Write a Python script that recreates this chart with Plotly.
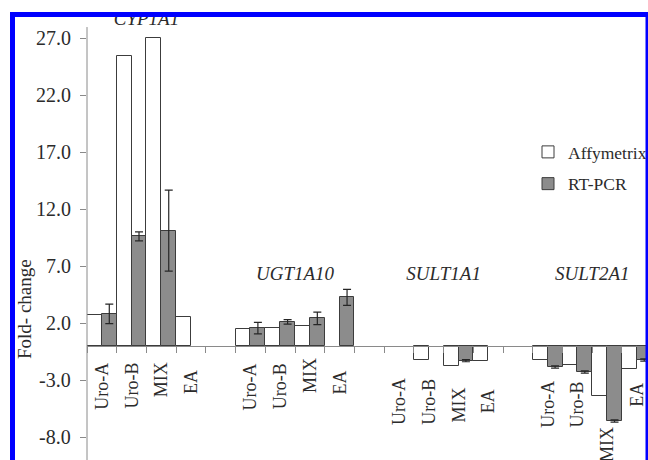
import plotly.graph_objects as go

# ---- data -------------------------------------------------------------
genes = ["CYP1A1", "UGT1A10", "SULT1A1", "SULT2A1"]
treatments = ["Uro-A", "Uro-B", "MIX", "EA"]

affymetrix_cyp1a1 = [2.7, 25.4, 27.0, 2.55]
affymetrix_ugt1a10 = [1.45, 1.6, 1.7, None]
affymetrix_sult1a1 = [None, -1.25, -1.8, -1.3]
affymetrix_sult2a1 = [-1.25, -1.7, -4.4, -2.0]

rtpcr_cyp1a1 = [2.8, 9.6, 10.1, None]
rtpcr_ugt1a10 = [1.55, 2.1, 2.4, 4.25]
rtpcr_sult1a1 = [None, None, -1.3, None]
rtpcr_sult2a1 = [-1.85, -2.3, -6.6, -1.25]

rtpcr_err_cyp1a1 = [0.85, 0.4, 3.55, None]
rtpcr_err_ugt1a10 = [0.5, 0.2, 0.55, 0.7]
rtpcr_err_sult1a1 = [None, None, 0.1, None]
rtpcr_err_sult2a1 = [0.1, 0.1, 0.1, 0.1]

y_ticks = [-8, -3, 2, 7, 12, 17, 22, 27]
y_axis_top = 27.96              # where the drawn value axis ends

# ---- geometry / style ---------------------------------------------------
W, H = 648, 460
ML, MT = 87, 12                 # plot area starts here (pixels)
PW, PH = W - ML, H - MT         # plot area size
SLOT_PX = 29.72                 # width of one category slot
ZERO_PX = 345.8                 # pixel row of y = 0
UNIT_PX = 11.4                  # pixels per fold-change unit

x_lo = -0.5
x_hi = x_lo + PW / SLOT_PX
y_hi = (ZERO_PX - MT) / UNIT_PX
y_lo = -(H - ZERO_PX) / UNIT_PX

FONT = "Liberation Serif, Times New Roman, serif"
TXT = "#2b2b2b"
AXIS = "#8a8a8a"
EDGE = "#3c3c3c"
GREY = "#8c8c8c"
BLUE = "#0000ff"


def px_x(px):
    return (px - ML) / PW


def px_y(py):
    return (H - py) / PH


# category slots: four treatments per gene, one empty slot between genes
slots = [g * 5 + t for g in range(len(genes)) for t in range(len(treatments))]
affy = affymetrix_cyp1a1 + affymetrix_ugt1a10 + affymetrix_sult1a1 + affymetrix_sult2a1
rt = rtpcr_cyp1a1 + rtpcr_ugt1a10 + rtpcr_sult1a1 + rtpcr_sult2a1
rt_err = rtpcr_err_cyp1a1 + rtpcr_err_ugt1a10 + rtpcr_err_sult1a1 + rtpcr_err_sult2a1

fig = go.Figure()
fig.add_trace(go.Bar(
    x=slots, y=affy, name="Affymetrix", legendgroup="affy",
    marker=dict(color="white", line=dict(color=EDGE, width=1)),
))
fig.add_trace(go.Bar(
    x=slots, y=rt, name="RT-PCR", legendgroup="rt",
    marker=dict(color=GREY, line=dict(color=EDGE, width=1)),
    error_y=dict(type="data", array=rt_err, visible=True,
                 color="#262626", thickness=1.2, width=4),
))

# gene titles (italic); the first one is tucked under the top frame
title_y = [28.55, 6.2, 6.2, 6.2]
fig.add_trace(go.Scatter(
    x=[g * 5 + 1.5 for g in range(len(genes))], y=title_y,
    text=genes, mode="text", showlegend=False, hoverinfo="skip",
    textfont=dict(family=FONT, size=19, color=TXT, style="italic"),
))

# treatment labels below the zero line (pixel centre of each label)
label_centre = {0: [386, 386, 380, 382], 1: [387, 386, 375, 383],
                2: [402, 402, 405, 401], 3: [404, 404, 445, 395]}
annotations = []
for g in range(len(genes)):
    for t, name in enumerate(treatments):
        annotations.append(dict(
            x=g * 5 + t, y=0, xref="x", yref="y",
            yshift=-(label_centre[g][t] - ZERO_PX),
            text=name, textangle=-90, showarrow=False,
            xanchor="center", yanchor="middle",
            font=dict(family=FONT, size=18, color=TXT),
        ))

# value-axis tick labels, right-aligned just left of the tick marks
for v in y_ticks:
    annotations.append(dict(
        x=px_x(73), y=v, xref="paper", yref="y",
        text=f"{v:.1f}", showarrow=False,
        xanchor="right", yanchor="middle",
        font=dict(family=FONT, size=20, color=TXT),
    ))

annotations.append(dict(
    x=px_x(24), y=px_y(309), xref="paper", yref="paper",
    text="Fold- change", textangle=-90, showarrow=False,
    xanchor="center", yanchor="middle",
    font=dict(family=FONT, size=19, color=TXT),
))

# value axis line, stopping just above the top tick
shapes = [dict(type="line", xref="paper", yref="y", x0=0, x1=0,
               y0=y_lo, y1=y_axis_top, line=dict(color=AXIS, width=1),
               layer="above")]

# blue frame around the panel
frame = [
    (10, 12, 15, H),     # left
    (10, 12, W, 17),     # top
    (645.5, 12, W, H),   # right
]
shapes += [dict(type="rect", xref="paper", yref="paper",
                x0=px_x(a), x1=px_x(c), y0=px_y(b), y1=px_y(d),
                fillcolor=BLUE, line=dict(width=0), layer="above")
           for a, b, c, d in frame]

fig.update_layout(
    width=W, height=H,
    margin=dict(l=ML, r=0, t=MT, b=0, pad=0, autoexpand=False),
    paper_bgcolor="white", plot_bgcolor="white",
    barmode="group", bargap=0, bargroupgap=0,
    font=dict(family=FONT, color=TXT),
    showlegend=True,
    legend=dict(x=px_x(528), y=px_y(134), xanchor="left", yanchor="top",
                font=dict(family=FONT, size=17.5, color=TXT),
                bgcolor="rgba(0,0,0,0)", itemwidth=30,
                traceorder="grouped", tracegroupgap=6),
    annotations=annotations,
    shapes=shapes,
    xaxis=dict(
        range=[x_lo, x_hi], showgrid=False, zeroline=False,
        showline=True, linecolor=AXIS, linewidth=1,
        anchor="free", position=(0 - y_lo) / (y_hi - y_lo),
        tickmode="array", tickvals=[k + 0.5 for k in range(-1, 20)],
        ticks="outside", ticklen=6, tickcolor=AXIS, showticklabels=False,
    ),
    yaxis=dict(
        range=[y_lo, y_hi], showgrid=False, zeroline=False,
        showline=False, showticklabels=False,
        tickmode="array", tickvals=y_ticks,
        ticks="outside", ticklen=6, tickcolor=AXIS,
    ),
)

fig.write_html("out.html")
